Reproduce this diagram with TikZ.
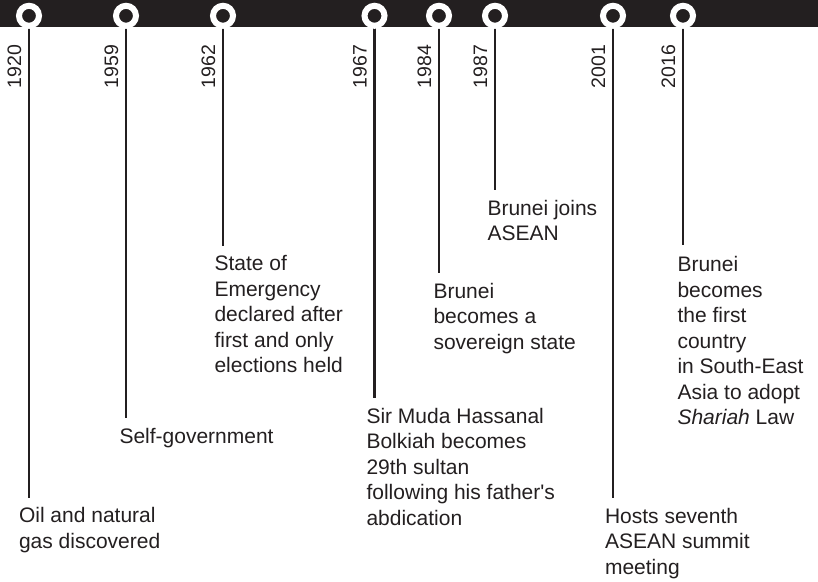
\documentclass[tikz,border=0pt]{standalone}
\usepackage{fontspec}
\setmainfont{Liberation Sans}
\usetikzlibrary{backgrounds}
\definecolor{ink}{HTML}{231F20}
\begin{document}
\begin{tikzpicture}[x=1pt,y=-1pt,
  evtext/.style={anchor=base west, inner sep=0pt, outer sep=0pt, align=left, text=ink, font=\fontsize{21}{25.5}\selectfont},
  yeartext/.style={rotate=90, anchor=base west, inner sep=0pt, outer sep=0pt, text=ink, font=\fontsize{19.5}{20}\selectfont},
  stem/.style={draw=ink, line width=2.7pt},
  knob/.style={circle, draw=white, line width=6pt, fill=ink, minimum size=20pt, inner sep=0pt, outer sep=0pt}]
\useasboundingbox (0,0) rectangle (818,581);
\fill[ink] (0,0) rectangle (818,27);
% knobs
\node[knob] (k1) at (29,15.8) {};
\node[knob] (k2) at (126,15.8) {};
\node[knob] (k3) at (223,15.8) {};
\node[knob] (k4) at (374.5,15.8) {};
\node[knob] (k5) at (439,15.8) {};
\node[knob] (k6) at (495,15.8) {};
\node[knob] (k7) at (613,15.8) {};
\node[knob] (k8) at (683,15.8) {};
% stem ends
\coordinate (b1) at (29,498);
\coordinate (b2) at (126,418);
\coordinate (b3) at (223,246);
\coordinate (b4) at (374.5,398);
\coordinate (b5) at (439,273);
\coordinate (b6) at (495,190);
\coordinate (b7) at (613,498);
\coordinate (b8) at (683,245);
\begin{pgfonlayer}{background}
\foreach \i in {1,...,8} \draw[stem] (k\i.center) -- (b\i);
\end{pgfonlayer}
% years
\node[yeartext] (y1) at (21,88) {1920};
\node[yeartext] (y2) at (118,88) {1959};
\node[yeartext] (y3) at (215,88) {1962};
\node[yeartext] (y4) at (366.5,88) {1967};
\node[yeartext] (y5) at (431,88) {1984};
\node[yeartext] (y6) at (487,88) {1987};
\node[yeartext] (y7) at (605,88) {2001};
\node[yeartext] (y8) at (675,88) {2016};
% event texts (anchored at baseline of last line)
\node[evtext] (t1) at (19,548.2) {Oil and natural\\gas discovered};
\node[evtext] (t2) at (119.5,443) {Self-government};
\node[evtext] (t3) at (214.5,372.7) {State of\\Emergency\\declared after\\first and only\\elections held};
\node[evtext] (t4) at (366.5,525) {Sir Muda Hassanal\\Bolkiah becomes\\29th sultan\\following his father\textquotesingle s\\abdication};
\node[evtext] (t5) at (433.5,349) {Brunei\\becomes a\\sovereign state};
\node[evtext] (t6) at (487.5,240.5) {Brunei joins\\ASEAN};
\node[evtext] (t7) at (605,574) {Hosts seventh\\ASEAN summit\\meeting};
\node[evtext] (t8) at (677.5,424.7) {Brunei\\becomes\\the first\\country\\in South-East\\Asia to adopt\\\textit{Shariah} Law};
\end{tikzpicture}
\end{document}
